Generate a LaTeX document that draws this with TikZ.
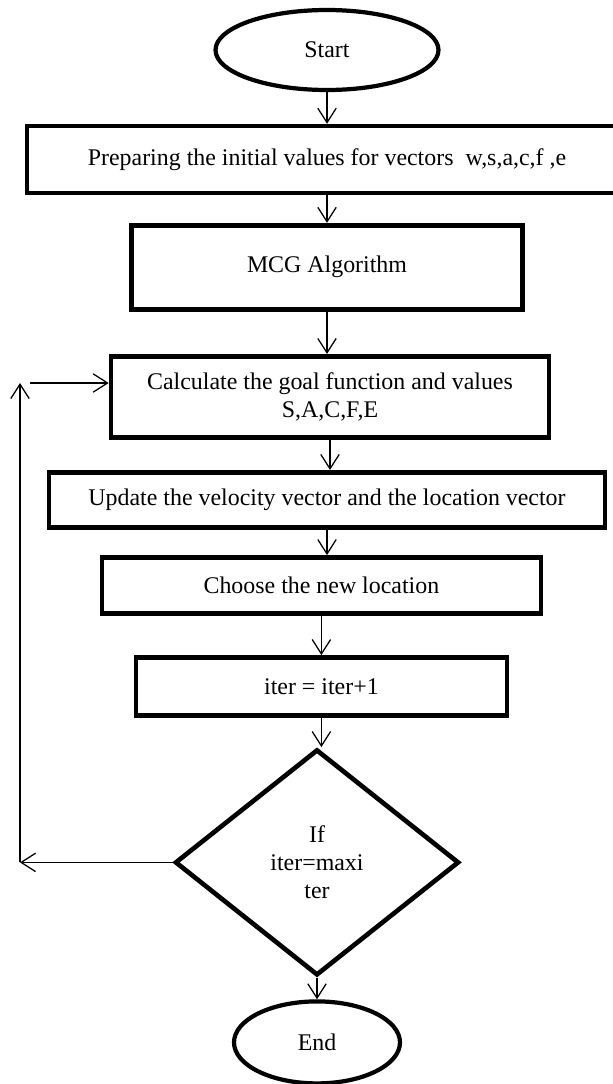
\documentclass[tikz,border=0pt]{standalone}
\usepackage{fontspec}
\setmainfont{Liberation Serif}
\usetikzlibrary{shapes.geometric,arrows.meta}

\begin{document}
\begin{tikzpicture}[->,
					>={Straight Barb[length=3.6mm,width=4.6mm]},
					line width=0.9pt,
					node distance=2.7cm,
					font=\fontsize{17}{20}\selectfont,
					box/.style={rectangle,draw,line width=3.3pt,inner sep=0pt,align=center},
					term/.style={ellipse,draw,line width=3pt,inner sep=0pt},
					test/.style={diamond,draw,line width=3.3pt,inner sep=0pt,align=center}]

  \useasboundingbox (0,0) rectangle (15.325,-27.1);

  \node[term,minimum width=5.575cm,minimum height=2cm] (start) at (8.175,-1.25) {Start};
  \node[box,minimum width=15cm,minimum height=1.675cm] (prep) [below of=start,node distance=2.74cm] {Preparing the initial values for vectors \ w,s,a,c,f ,e};
  \node[box,minimum width=9.775cm,minimum height=2.1cm] (mcg) [below of=prep,node distance=2.69cm] {MCG Algorithm};
  \node[box,minimum width=10.95cm,minimum height=2.025cm,xshift=0.075cm] (calc) [below of=mcg,node distance=3.24cm] {Calculate the goal function and values\\S,A,C,F,E};
  \node[box,minimum width=13.9cm,minimum height=1.375cm,xshift=-0.075cm] (update) [below of=calc,node distance=2.575cm] {Update the velocity vector and the location vector};
  \node[box,minimum width=10.975cm,minimum height=1.4cm,xshift=-0.14cm] (choose) [below of=update,node distance=2.14cm] {Choose the new location};
  \node[box,minimum width=9.275cm,minimum height=1.45cm] (iter) [below of=choose,node distance=2.525cm] {iter = iter+1};
  \node[test,minimum width=7.1cm,minimum height=5.65cm,xshift=-0.11cm] (dec) [below of=iter,node distance=4.4cm] {If\\iter=maxi\\ter};
  \node[term,minimum width=4.15cm,minimum height=2.05cm] (end) [below of=dec,node distance=4.5cm] {End};

  \coordinate (back) at (0.5,-9.575);
  \coordinate (into) at (0.75,-9.575);

  \path
    (start.south) edge (start.south |- prep.north)
    (prep.south) edge (prep.south |- mcg.north)
    (mcg.south) edge (mcg.south |- calc.north)
    (calc.south) edge (calc.south |- update.north)
    (update.south) edge (update.south |- choose.north)
    (choose.south) edge (choose.south |- iter.north)
    (iter.south) edge (iter.south |- dec.north)
    (dec.south) edge (dec.south |- end.north);

  % loop back to the goal function
  \draw (dec.west) -- (dec.west -| back);
  \draw (dec.west -| back) -- (back);
  \draw (into) -- (into -| calc.west);
\end{tikzpicture}
\end{document}
